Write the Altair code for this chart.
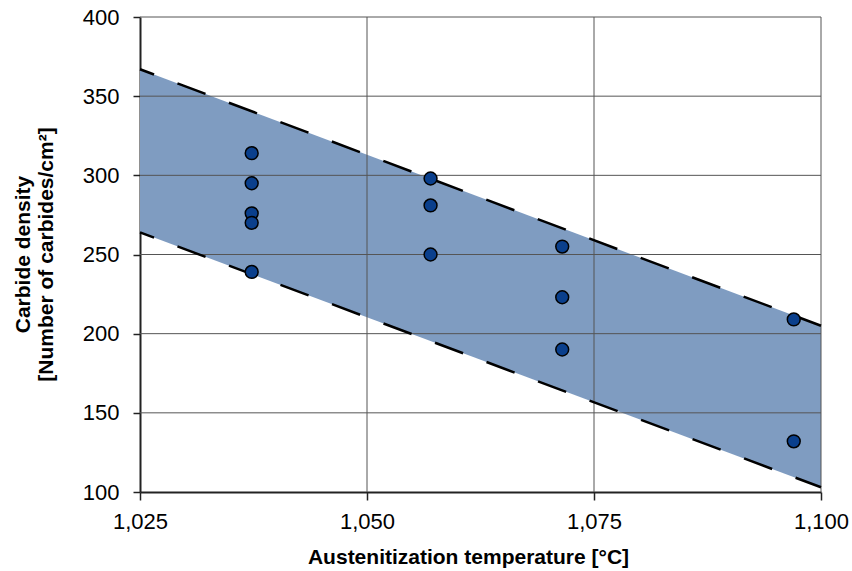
import altair as alt
import pandas as pd

# Data
temp_pts = [1037.3, 1037.3, 1037.3, 1037.3, 1037.3,
            1057.0, 1057.0, 1057.0,
            1071.5, 1071.5, 1071.5,
            1097.0, 1097.0]
density_pts = [314, 295, 276, 270, 239,
               298, 281, 250,
               255, 223, 190,
               209, 132]

band_x = [1025, 1100]
band_upper = [367, 205]
band_lower = [264, 103]

x_grid = [1050, 1075, 1100]
y_grid = [150, 200, 250, 300, 350, 400]

FONT = "Liberation Sans"

pts = pd.DataFrame({"t": temp_pts, "d": density_pts})
band = pd.DataFrame({"t": band_x, "up": band_upper, "lo": band_lower})
lines = pd.DataFrame({
    "t": band_x + band_x,
    "v": band_upper + band_lower,
    "s": ["upper"] * 2 + ["lower"] * 2,
})
xg = pd.DataFrame({"t": x_grid})
yg = pd.DataFrame({"d": y_grid})

xs = alt.Scale(domain=[1025, 1100], nice=False, zero=False)
ys = alt.Scale(domain=[100, 400], nice=False, zero=False)

x_axis = alt.Axis(
    values=[1025, 1050, 1075, 1100], format=",", grid=False, labelFlush=False,
    labelFont=FONT, labelFontSize=22, labelColor="black", labelPadding=11,
    tickSize=8, tickColor="#222", tickWidth=1.5,
    domainColor="#222", domainWidth=2,
    title="Austenitization temperature [°C]", titleFont=FONT, titleFontSize=21,
    titleFontWeight="bold", titleColor="black",
    titleX=328, titleY=71, titleAlign="center", titleBaseline="alphabetic",
)
y_axis = alt.Axis(
    values=[100, 150, 200, 250, 300, 350, 400], grid=False, labelFlush=False,
    labelFont=FONT, labelFontSize=22, labelColor="black", labelPadding=14,
    tickSize=7, tickColor="#222", tickWidth=1.5,
    domainColor="#222", domainWidth=2,
    title=["Carbide density", "[Number of carbides/cm²]"], titleFont=FONT,
    titleFontSize=21, titleFontWeight="bold", titleColor="black",
    titleLineHeight=23, titleAngle=270,
    titleX=-128, titleY=237, titleAlign="center", titleBaseline="top",
)

band_layer = alt.Chart(band).mark_area(color="#7f9cc1", opacity=1).encode(
    x=alt.X("t:Q", scale=xs, axis=x_axis),
    y=alt.Y("up:Q", scale=ys, axis=y_axis),
    y2="lo:Q",
)

vgrid = alt.Chart(xg).mark_rule(color="#555", strokeWidth=1).encode(
    x=alt.X("t:Q", scale=xs), y=alt.value(0), y2=alt.value(475)
)
hgrid = alt.Chart(yg).mark_rule(color="#555", strokeWidth=1).encode(
    y=alt.Y("d:Q", scale=ys), x=alt.value(0), x2=alt.value(681)
)

dash_layer = alt.Chart(lines).mark_line(
    color="black", strokeWidth=2.5, strokeDash=[30, 25], strokeDashOffset=15
).encode(
    x=alt.X("t:Q", scale=xs),
    y=alt.Y("v:Q", scale=ys),
    detail="s:N",
)

pt_layer = alt.Chart(pts).mark_point(
    filled=True, size=165, fill="#0a3f8c", stroke="black", strokeWidth=1.5, opacity=1
).encode(
    x=alt.X("t:Q", scale=xs),
    y=alt.Y("d:Q", scale=ys),
)

chart = alt.layer(band_layer, vgrid, hgrid, dash_layer, pt_layer).properties(
    width=681, height=475,
    autosize=alt.AutoSizeParams(type="none"),
    padding={"left": 140, "top": 17, "right": 31, "bottom": 79},
    background="white",
).configure_view(stroke=None)

chart.save("out.html", embed_options={"renderer": "svg", "actions": False})
